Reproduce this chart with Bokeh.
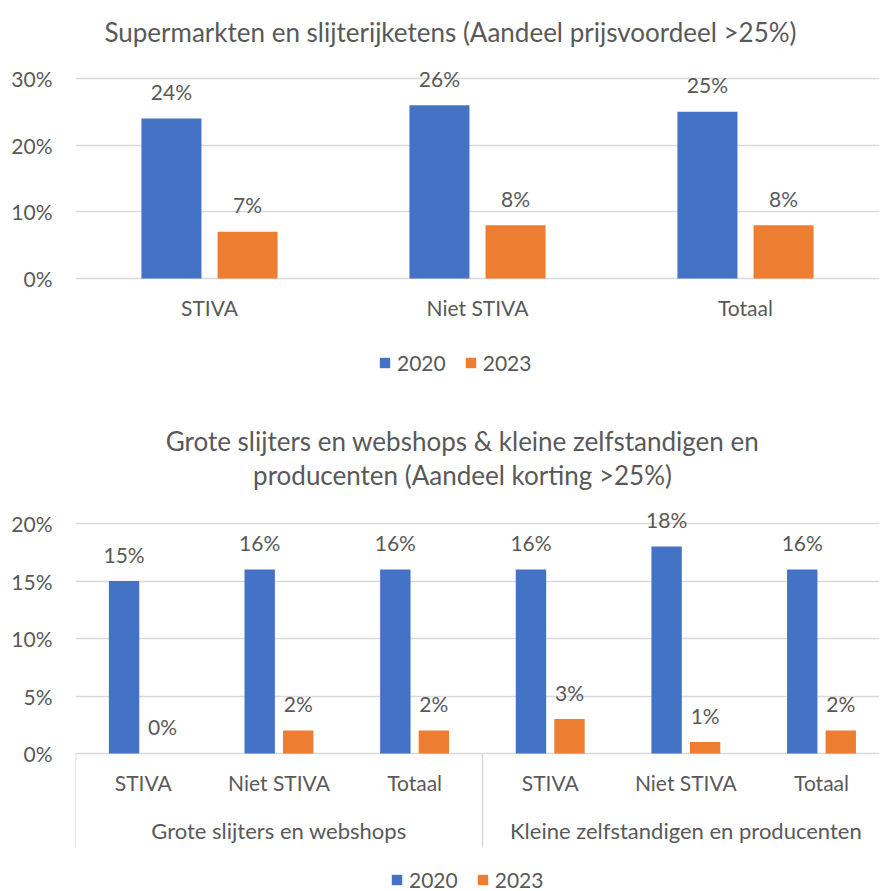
from bokeh.plotting import figure
from bokeh.models import (Range1d, FactorRange, FixedTicker, LinearAxis, Label, Legend,
                          LegendItem, ColumnDataSource, NumeralTickFormatter)
from bokeh.transform import dodge
from bokeh.core.properties import value
from bokeh.layouts import column
from bokeh.embed import file_html
from bokeh.resources import INLINE

# ---------------- data ----------------
top_title = "Supermarkten en slijterijketens (Aandeel prijsvoordeel >25%)"
top_categories = ["STIVA", "Niet STIVA", "Totaal"]
top_2020 = [0.24, 0.26, 0.25]
top_2023 = [0.07, 0.08, 0.08]
top_ticks = [0.0, 0.10, 0.20, 0.30]

bottom_title_1 = "Grote slijters en webshops & kleine zelfstandigen en"
bottom_title_2 = "producenten (Aandeel korting >25%)"
bottom_groups = ["Grote slijters en webshops", "Kleine zelfstandigen en producenten"]
bottom_categories = ["STIVA", "Niet STIVA", "Totaal", "STIVA", "Niet STIVA", "Totaal"]
bottom_2020 = [0.15, 0.16, 0.16, 0.16, 0.18, 0.16]
bottom_2023 = [0.00, 0.02, 0.02, 0.03, 0.01, 0.02]
bottom_ticks = [0.0, 0.05, 0.10, 0.15, 0.20]
bottom_group_size = 3

series_names = ["2020", "2023"]

# ---------------- style ----------------
BLUE = "#4472C4"
ORANGE = "#ED7D31"
TXT = "#595959"
GRID = "#d9d9d9"
FONT = "Lato"
LBL = "21px"
GROUP_LBL = "22px"
TITLE_SIZE = "26px"
BAR_W = 0.224
OFF = 0.142
W = 893
LEFT = 75


def pct(v):
    return [f"{round(x * 100)}%" for x in v]


def y_range_for(height, zero_px, top_px, top_val):
    """Range so that value 0 sits at pixel row zero_px and top_val at top_px."""
    ppu = (zero_px - top_px) / top_val
    return Range1d(-(height - zero_px) / ppu, top_val + top_px / ppu), ppu


def style_common(p, ticks):
    p.outline_line_color = None
    p.xgrid.visible = False
    p.ygrid.ticker = FixedTicker(ticks=ticks)
    p.ygrid.grid_line_color = GRID
    p.ygrid.grid_line_width = 1.5
    ya = p.yaxis[0]
    ya.ticker = FixedTicker(ticks=ticks)
    ya.formatter = NumeralTickFormatter(format="0%")
    ya.axis_line_color = None
    ya.major_tick_line_color = None
    ya.minor_tick_line_color = None
    ya.major_tick_out = 0
    ya.major_tick_in = 0
    ya.major_label_standoff = 23
    ya.major_label_text_font = FONT
    ya.major_label_text_font_size = LBL
    ya.major_label_text_color = TXT


def style_xaxis(ax, standoff, size=LBL):
    ax.fixed_location = 0
    ax.axis_line_color = None
    ax.major_tick_line_color = None
    ax.minor_tick_line_color = None
    ax.major_tick_out = 0
    ax.major_tick_in = 0
    ax.major_label_standoff = standoff
    ax.major_label_text_font = FONT
    ax.major_label_text_font_size = size
    ax.major_label_text_color = TXT


def add_title(p, text, x, y):
    p.add_layout(Label(x=x, y=y, x_units="screen", y_units="screen", text=text,
                       text_align="center", text_baseline="middle", text_font=FONT,
                       text_font_size=TITLE_SIZE, text_color=TXT))


def add_legend(p, r1, r2, vx, vy):
    leg = Legend(items=[LegendItem(label=series_names[0], renderers=[r1]),
                        LegendItem(label=series_names[1], renderers=[r2])],
                 orientation="horizontal", location=(vx, vy),
                 glyph_width=13, glyph_height=13, label_standoff=6, spacing=18,
                 padding=0, margin=0, border_line_color=None, background_fill_alpha=0,
                 label_text_font=FONT, label_text_font_size=LBL, label_text_color=TXT)
    p.add_layout(leg, "center")


def bars_and_labels(p, xfield, src):
    rs = []
    for off, vf, tf, col in ((-OFF, "v20", "t20", BLUE), (OFF, "v23", "t23", ORANGE)):
        xx = dodge(xfield, off, range=p.x_range)
        rs.append(p.vbar(x=xx, top=vf, width=BAR_W, bottom=0, source=src,
                         fill_color=col, line_color=None))
        p.text(x=xx, y=vf, text=tf, source=src, text_align="center",
               text_baseline="middle", y_offset=-27, text_font=value(FONT),
               text_font_size=value(LBL), text_color=TXT)
    return rs


# ---------------- top chart ----------------
H1 = 400
yr1, _ = y_range_for(H1, 278, 78, 0.30)
src1 = ColumnDataSource(dict(cat=top_categories, v20=top_2020, v23=top_2023,
                             t20=pct(top_2020), t23=pct(top_2023)))
p1 = figure(width=W, height=H1, x_range=FactorRange(*top_categories, range_padding=0),
            y_range=yr1, output_backend="svg", toolbar_location=None,
            min_border_left=LEFT, min_border_right=14, min_border_top=0, min_border_bottom=0)
style_common(p1, top_ticks)
style_xaxis(p1.xaxis[0], 16)
r1a, r1b = bars_and_labels(p1, "cat", src1)
add_title(p1, top_title, 450 - LEFT, H1 - 31)
add_legend(p1, r1a, r1b, 303, 25)

# ---------------- bottom chart ----------------
H2 = 491
yr2, ppu2 = y_range_for(H2, 353, 123, 0.20)
CAT_PX = 138
bx = [i + 0.5 for i in range(len(bottom_categories))]
gpos = [bottom_group_size * (g + 0.5) for g in range(len(bottom_groups))]
seps = [bottom_group_size * g for g in range(len(bottom_groups) + 1)]
src2 = ColumnDataSource(dict(x=bx, v20=bottom_2020, v23=bottom_2023,
                             t20=pct(bottom_2020), t23=pct(bottom_2023)))
p2 = figure(width=W, height=H2, x_range=Range1d(0, (W - LEFT) / CAT_PX),
            y_range=yr2, output_backend="svg", toolbar_location=None,
            min_border_left=LEFT, min_border_right=0, min_border_top=0, min_border_bottom=0)
style_common(p2, bottom_ticks)

xa2 = p2.xaxis[0]
xa2.ticker = FixedTicker(ticks=bx)
xa2.major_label_overrides = {x: c for x, c in zip(bx, bottom_categories)}
style_xaxis(xa2, 16)

ga = LinearAxis(ticker=FixedTicker(ticks=gpos),
                major_label_overrides={x: g for x, g in zip(gpos, bottom_groups)})
style_xaxis(ga, 63, GROUP_LBL)
p2.add_layout(ga, "below")

sa = LinearAxis(ticker=FixedTicker(ticks=[], minor_ticks=seps))
style_xaxis(sa, 0)
sa.minor_tick_line_color = GRID
sa.minor_tick_line_width = 1.5
sa.minor_tick_in = 0
sa.minor_tick_out = 94
p2.add_layout(sa, "below")

r2a, r2b = bars_and_labels(p2, "x", src2)
add_title(p2, bottom_title_1, 462 - LEFT, H2 - 40)
add_title(p2, bottom_title_2, 462 - LEFT, H2 - 74)
add_legend(p2, r2a, r2b, 315, -1)

layout = column(p1, p2, spacing=0)
open("out.html", "w").write(file_html(layout, INLINE))
